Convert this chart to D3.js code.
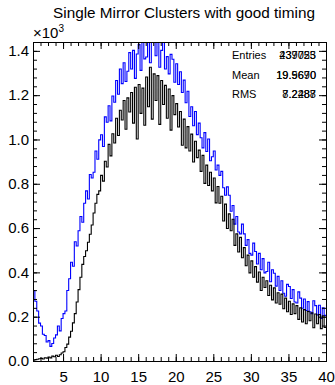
<!DOCTYPE html>
<html>
<head>
<meta charset="utf-8">
<script src="https://cdn.jsdelivr.net/npm/d3@7"></script>
<style>
  body { margin: 0; background: #fff; }
  svg { display: block; font-family: "Liberation Sans", Arial, Helvetica, sans-serif; }
</style>
</head>
<body>
<div id="chart"></div>
<script>
// histogram binning: 0.25 wide bins from 1 to 40
const binStart = 1, binWidth = 0.25;

// counts per bin (blue: all single mirror clusters, black: good timing)
const blueCounts = [
  318, 270, 226, 171,   158, 121, 115, 86,    92, 66, 79, 104,      118, 158, 136, 192,
  214, 226, 318, 371,   446, 428, 538, 519,   588, 652, 626, 712,   768, 731, 842, 826,
  852, 948, 911, 998,   1021, 968, 1102, 1078, 1152, 1084, 1196, 1168, 1266, 1204, 1318, 1252,
  1346, 1262, 1308, 1392, 1318, 1402, 1276, 1386, 1428, 1312, 1458, 1364, 1372, 1488, 1346, 1470,
  1512, 1378, 1452, 1326, 1402, 1446, 1318, 1374, 1296, 1384, 1362, 1258, 1342, 1248, 1306, 1212,
  1268, 1166, 1218, 1104, 1148, 1062, 1126, 1022, 1074, 1008, 962, 1031, 946, 1002, 904, 922,
  948, 862, 884, 838,   856, 782, 748, 786,   748, 676, 702, 618,   652, 582, 574, 618,
  574, 522, 548, 486,   478, 532, 494, 438,   486, 412, 462, 398,   404, 446, 358, 412,
  396, 338, 382, 318,   362, 306, 292, 346,   336, 282, 322, 266,   262, 312, 284, 238,
  280, 228, 268, 222,   214, 272, 250, 208,   252, 192, 240, 206
];
const blackCounts = [
  4, 6, 8, 10,          12, 9, 15, 13,        18, 14, 22, 19,       26, 20, 28, 36,
  42, 61, 76, 108,      134, 172, 214, 266,   322, 378, 436, 472,   498, 536, 572, 614,
  668, 712, 752, 768,   838, 812, 902, 876,   978, 926, 1026, 984,  1096, 1018, 1132, 1088,
  1176, 1046, 1188, 1124, 1212, 1074, 1236, 1002, 1248, 1118, 1232, 1064, 1282, 1148, 1326, 1092,
  1296, 1176, 1288, 1068, 1266, 1158, 1244, 1096, 1228, 1042, 1198, 1112, 1162, 1056, 1126, 974,
  1092, 962, 1058, 948, 1024, 898, 992, 918,  952, 856, 928, 802,   884, 792, 852, 768,
  826, 714, 788, 712,   744, 632, 708, 598,   664, 588, 640, 522,   574, 492, 558, 466,
  512, 430, 478, 398,   452, 378, 426, 356,   402, 318, 378, 332,   362, 296, 342, 276,
  330, 262, 308, 256,   302, 236, 284, 222,   270, 210, 258, 214,   250, 188, 240, 176,
  232, 168, 224, 182,   218, 150, 212, 168,   210, 146, 204, 152
];

// stats boxes (two drawn on the same spot)
const statLabels = ["Entries", "Mean", "RMS"];
const statsBlue = ["439755", "19.9690", "8.2288"];
const statsBlack = ["237023", "19.5670", "7.2487"];

const xTicks = [5, 10, 15, 20, 25, 30, 35, 40];
const yTicks = [0, 200, 400, 600, 800, 1000, 1200, 1400];

const W = 335, H = 385;
const margin = { top: 42, right: 9, bottom: 24, left: 33 };

const svg = d3.select("#chart").append("svg")
  .attr("width", W).attr("height", H);

const x = d3.scaleLinear().domain([1, 40]).range([margin.left, W - margin.right]);
const y = d3.scaleLinear().domain([0, 1440]).range([H - margin.bottom, margin.top]);

svg.append("defs").append("clipPath").attr("id", "frame")
  .append("rect")
  .attr("x", x(1)).attr("y", y(1440))
  .attr("width", x(40) - x(1)).attr("height", y(0) - y(1440));

// title
svg.append("text")
  .attr("x", 184).attr("y", 18)
  .attr("text-anchor", "middle")
  .style("font-size", "15.3px")
  .text("Single Mirror Clusters with good timing");

// histograms as steps
function stepPoints(counts) {
  const pts = counts.map((c, i) => [binStart + i * binWidth, c]);
  pts.push([binStart + counts.length * binWidth, counts[counts.length - 1]]);
  return pts;
}
const step = d3.line()
  .curve(d3.curveStepAfter)
  .x(d => x(d[0]))
  .y(d => y(d[1]));

const plot = svg.append("g").attr("clip-path", "url(#frame)");
plot.append("path")
  .attr("d", step(stepPoints(blueCounts)))
  .attr("fill", "none").attr("stroke", "#0000ff").attr("stroke-width", 1.1);
plot.append("path")
  .attr("d", step(stepPoints(blackCounts)))
  .attr("fill", "none").attr("stroke", "#000").attr("stroke-width", 1.1);

// axes: bottom/left with labels, top/right mirrored ticks
const xMinor = d3.range(1, 41, 1);
const yMinor = d3.range(0, 1441, 40);

const gBottom = svg.append("g").attr("transform", `translate(0,${y(0)})`);
gBottom.call(d3.axisBottom(x).tickValues(xTicks).tickSize(-7).tickPadding(10).tickFormat(d3.format("d")));
gBottom.append("g").call(d3.axisBottom(x).tickValues(xMinor).tickSize(-4).tickFormat(""));

const gTop = svg.append("g").attr("transform", `translate(0,${y(1440)})`);
gTop.call(d3.axisTop(x).tickValues(xTicks).tickSize(-7).tickFormat(""));
gTop.append("g").call(d3.axisTop(x).tickValues(xMinor).tickSize(-4).tickFormat(""));

const gLeft = svg.append("g").attr("transform", `translate(${x(1)},0)`);
gLeft.call(d3.axisLeft(y).tickValues(yTicks).tickSize(-7).tickPadding(4).tickFormat(d => (d / 1000).toFixed(1)));
gLeft.append("g").call(d3.axisLeft(y).tickValues(yMinor).tickSize(-4).tickFormat(""));

const gRight = svg.append("g").attr("transform", `translate(${x(40)},0)`);
gRight.call(d3.axisRight(y).tickValues(yTicks).tickSize(-7).tickFormat(""));
gRight.append("g").call(d3.axisRight(y).tickValues(yMinor).tickSize(-4).tickFormat(""));

svg.selectAll(".domain").attr("stroke", "#000").attr("stroke-width", 1);
svg.selectAll(".tick line").attr("stroke", "#000");
svg.selectAll(".tick text")
  .style("font-size", "15px").style("font-family", "'Liberation Sans', Arial, sans-serif").attr("fill", "#000");

// exponent label
const expo = svg.append("text").attr("x", 33).attr("y", 38).style("font-size", "15px");
expo.append("tspan").text("\u00d710");
expo.append("tspan").attr("dy", -6).style("font-size", "10px").text("3");

// stats text
const stats = svg.append("g").style("font-size", "11px");
statLabels.forEach((lab, i) => {
  const yy = 59 + i * 19.5;
  stats.append("text").attr("x", 232).attr("y", yy).text(lab);
  stats.append("text").attr("x", 316).attr("y", yy).attr("text-anchor", "end").text(statsBlue[i]);
  stats.append("text").attr("x", 316).attr("y", yy).attr("text-anchor", "end").text(statsBlack[i]);
});
</script>
</body>
</html>
